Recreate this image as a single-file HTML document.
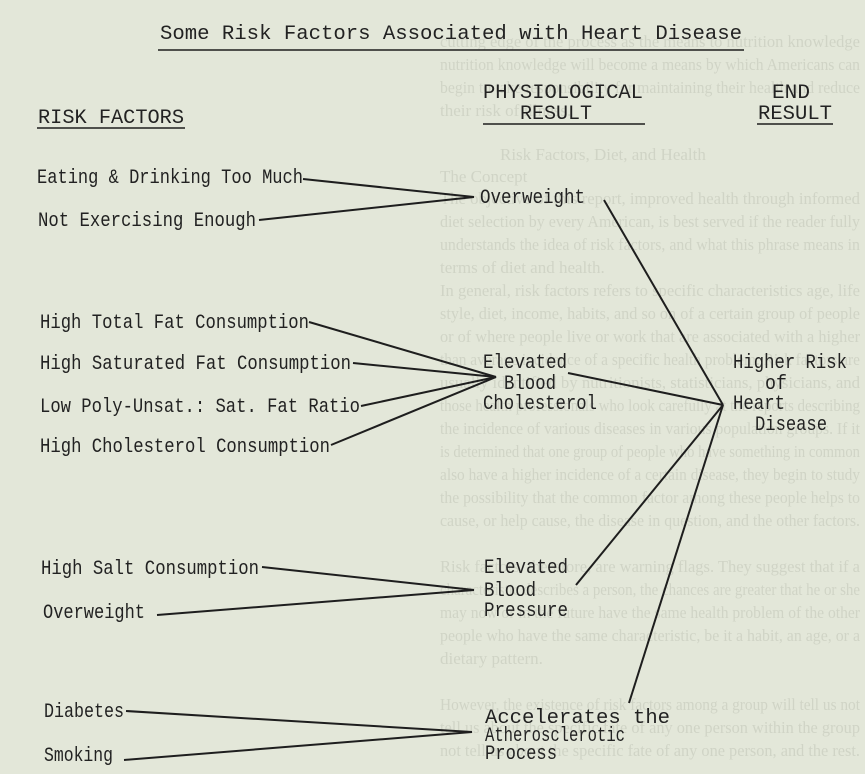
<!DOCTYPE html>
<html><head><meta charset="utf-8"><style>
html,body{margin:0;padding:0;background:#e3e7d9;}
svg{display:block}
text{font-family:"Liberation Mono",monospace;font-size:20px;fill:#222;}
.b{font-family:"Liberation Serif",serif;font-size:17px;fill:#d0d4c6;}
line{stroke:#1e1e1e;stroke-width:2;}
</style></head><body>
<svg width="865" height="774" viewBox="0 0 865 774">
<rect width="865" height="774" fill="#e3e7d9"/>
<g>
<text class="b" x="440" y="47" textLength="420" lengthAdjust="spacingAndGlyphs">cutting edge of the process as the means to nutrition knowledge</text>
<text class="b" x="440" y="70" textLength="420" lengthAdjust="spacingAndGlyphs">nutrition knowledge will become a means by which Americans can</text>
<text class="b" x="440" y="93" textLength="420" lengthAdjust="spacingAndGlyphs">begin to take responsibility for maintaining their health and reduce</text>
<text class="b" x="440" y="116">their risk of illness.</text>
<text class="b" x="500" y="160">Risk Factors, Diet, and Health</text>
<text class="b" x="440" y="182">The Concept</text>
<text class="b" x="440" y="204" textLength="420" lengthAdjust="spacingAndGlyphs">The objective of this report, improved health through informed</text>
<text class="b" x="440" y="227" textLength="420" lengthAdjust="spacingAndGlyphs">diet selection by every American, is best served if the reader fully</text>
<text class="b" x="440" y="250" textLength="420" lengthAdjust="spacingAndGlyphs">understands the idea of risk factors, and what this phrase means in</text>
<text class="b" x="440" y="273">terms of diet and health.</text>
<text class="b" x="440" y="296" textLength="420" lengthAdjust="spacingAndGlyphs">In general, risk factors refers to specific characteristics age, life</text>
<text class="b" x="440" y="319" textLength="420" lengthAdjust="spacingAndGlyphs">style, diet, income, habits, and so on of a certain group of people</text>
<text class="b" x="440" y="342" textLength="420" lengthAdjust="spacingAndGlyphs">or of where people live or work that are associated with a higher</text>
<text class="b" x="440" y="365" textLength="420" lengthAdjust="spacingAndGlyphs">than average incidence of a specific health problem. Risk factors are</text>
<text class="b" x="440" y="388" textLength="420" lengthAdjust="spacingAndGlyphs">usually identified by nutritionists, statisticians, physicians, and</text>
<text class="b" x="440" y="411" textLength="420" lengthAdjust="spacingAndGlyphs">those health professionals who look carefully at the reports describing</text>
<text class="b" x="440" y="434" textLength="420" lengthAdjust="spacingAndGlyphs">the incidence of various diseases in various population groups. If it</text>
<text class="b" x="440" y="457" textLength="420" lengthAdjust="spacingAndGlyphs">is determined that one group of people who have something in common</text>
<text class="b" x="440" y="480" textLength="420" lengthAdjust="spacingAndGlyphs">also have a higher incidence of a certain disease, they begin to study</text>
<text class="b" x="440" y="503" textLength="420" lengthAdjust="spacingAndGlyphs">the possibility that the common factor among these people helps to</text>
<text class="b" x="440" y="526" textLength="420" lengthAdjust="spacingAndGlyphs">cause, or help cause, the disease in question, and the other factors.</text>
<text class="b" x="440" y="572" textLength="420" lengthAdjust="spacingAndGlyphs">Risk factors, therefore, are warning flags. They suggest that if a</text>
<text class="b" x="440" y="595" textLength="420" lengthAdjust="spacingAndGlyphs">characteristic describes a person, the chances are greater that he or she</text>
<text class="b" x="440" y="618" textLength="420" lengthAdjust="spacingAndGlyphs">may now or in the future have the same health problem of the other</text>
<text class="b" x="440" y="641" textLength="420" lengthAdjust="spacingAndGlyphs">people who have the same characteristic, be it a habit, an age, or a</text>
<text class="b" x="440" y="664">dietary pattern.</text>
<text class="b" x="440" y="710" textLength="420" lengthAdjust="spacingAndGlyphs">However, the existence of risk factors among a group will tell us not</text>
<text class="b" x="440" y="733" textLength="420" lengthAdjust="spacingAndGlyphs">tell us about the specific fate of any one person within the group</text>
<text class="b" x="440" y="756" textLength="420" lengthAdjust="spacingAndGlyphs">not tell us about the specific fate of any one person, and the rest.</text>
</g>

<text x="160" y="39" textLength="582" lengthAdjust="spacingAndGlyphs">Some Risk Factors Associated with Heart Disease</text>
<line x1="158" y1="50" x2="744" y2="50" style="stroke-width:1.6"/>
<text x="483" y="98" textLength="160" lengthAdjust="spacingAndGlyphs">PHYSIOLOGICAL</text>
<text x="520" y="119" textLength="72" lengthAdjust="spacingAndGlyphs">RESULT</text>
<line x1="483" y1="124" x2="645" y2="124" style="stroke-width:1.6"/>
<text x="772" y="98" textLength="38" lengthAdjust="spacingAndGlyphs">END</text>
<text x="758" y="119" textLength="74" lengthAdjust="spacingAndGlyphs">RESULT</text>
<line x1="757" y1="124" x2="833" y2="124" style="stroke-width:1.6"/>
<text x="38" y="123" textLength="146" lengthAdjust="spacingAndGlyphs">RISK FACTORS</text>
<line x1="37" y1="128" x2="185" y2="128" style="stroke-width:1.6"/>

<text x="37" y="183" textLength="266" lengthAdjust="spacingAndGlyphs">Eating &amp; Drinking Too Much</text>
<text x="38" y="226" textLength="218" lengthAdjust="spacingAndGlyphs">Not Exercising Enough</text>
<text x="480" y="203" textLength="105" lengthAdjust="spacingAndGlyphs">Overweight</text>
<line x1="303" y1="179" x2="474" y2="197"/>
<line x1="259" y1="220" x2="474" y2="197"/>
<line x1="604" y1="200" x2="723" y2="405"/>

<text x="40" y="328" textLength="269" lengthAdjust="spacingAndGlyphs">High Total Fat Consumption</text>
<text x="40" y="369" textLength="311" lengthAdjust="spacingAndGlyphs">High Saturated Fat Consumption</text>
<text x="40" y="412" textLength="320" lengthAdjust="spacingAndGlyphs">Low Poly-Unsat.: Sat. Fat Ratio</text>
<text x="40" y="452" textLength="290" lengthAdjust="spacingAndGlyphs">High Cholesterol Consumption</text>
<line x1="309" y1="322" x2="496" y2="377"/>
<line x1="353" y1="363" x2="496" y2="377"/>
<line x1="361" y1="406" x2="496" y2="377"/>
<line x1="331" y1="445" x2="496" y2="377"/>
<text x="483" y="368" textLength="84" lengthAdjust="spacingAndGlyphs">Elevated</text>
<text x="504" y="389" textLength="52" lengthAdjust="spacingAndGlyphs">Blood</text>
<text x="483" y="409" textLength="114" lengthAdjust="spacingAndGlyphs">Cholesterol</text>
<line x1="568" y1="373" x2="723" y2="405"/>

<text x="733" y="368" textLength="114" lengthAdjust="spacingAndGlyphs">Higher Risk</text>
<text x="765" y="389" textLength="22" lengthAdjust="spacingAndGlyphs">of</text>
<text x="733" y="409" textLength="52" lengthAdjust="spacingAndGlyphs">Heart</text>
<text x="755" y="430" textLength="72" lengthAdjust="spacingAndGlyphs">Disease</text>

<text x="41" y="574" textLength="218" lengthAdjust="spacingAndGlyphs">High Salt Consumption</text>
<text x="43" y="618" textLength="102" lengthAdjust="spacingAndGlyphs">Overweight</text>
<line x1="262" y1="567" x2="474" y2="590"/>
<line x1="157" y1="615" x2="474" y2="590"/>
<text x="484" y="573" textLength="84" lengthAdjust="spacingAndGlyphs">Elevated</text>
<text x="484" y="596" textLength="52" lengthAdjust="spacingAndGlyphs">Blood</text>
<text x="484" y="616" textLength="84" lengthAdjust="spacingAndGlyphs">Pressure</text>
<line x1="576" y1="585" x2="723" y2="405"/>
<line x1="629" y1="703" x2="723" y2="405"/>

<text x="44" y="717" textLength="80" lengthAdjust="spacingAndGlyphs">Diabetes</text>
<text x="44" y="761" textLength="69" lengthAdjust="spacingAndGlyphs">Smoking</text>
<line x1="126" y1="711" x2="472" y2="732"/>
<line x1="124" y1="760" x2="472" y2="732"/>
<text x="485" y="723" textLength="185" lengthAdjust="spacingAndGlyphs">Accelerates the</text>
<text x="485" y="741" textLength="140" lengthAdjust="spacingAndGlyphs">Atherosclerotic</text>
<text x="485" y="759" textLength="72" lengthAdjust="spacingAndGlyphs">Process</text>
</svg>
</body></html>
